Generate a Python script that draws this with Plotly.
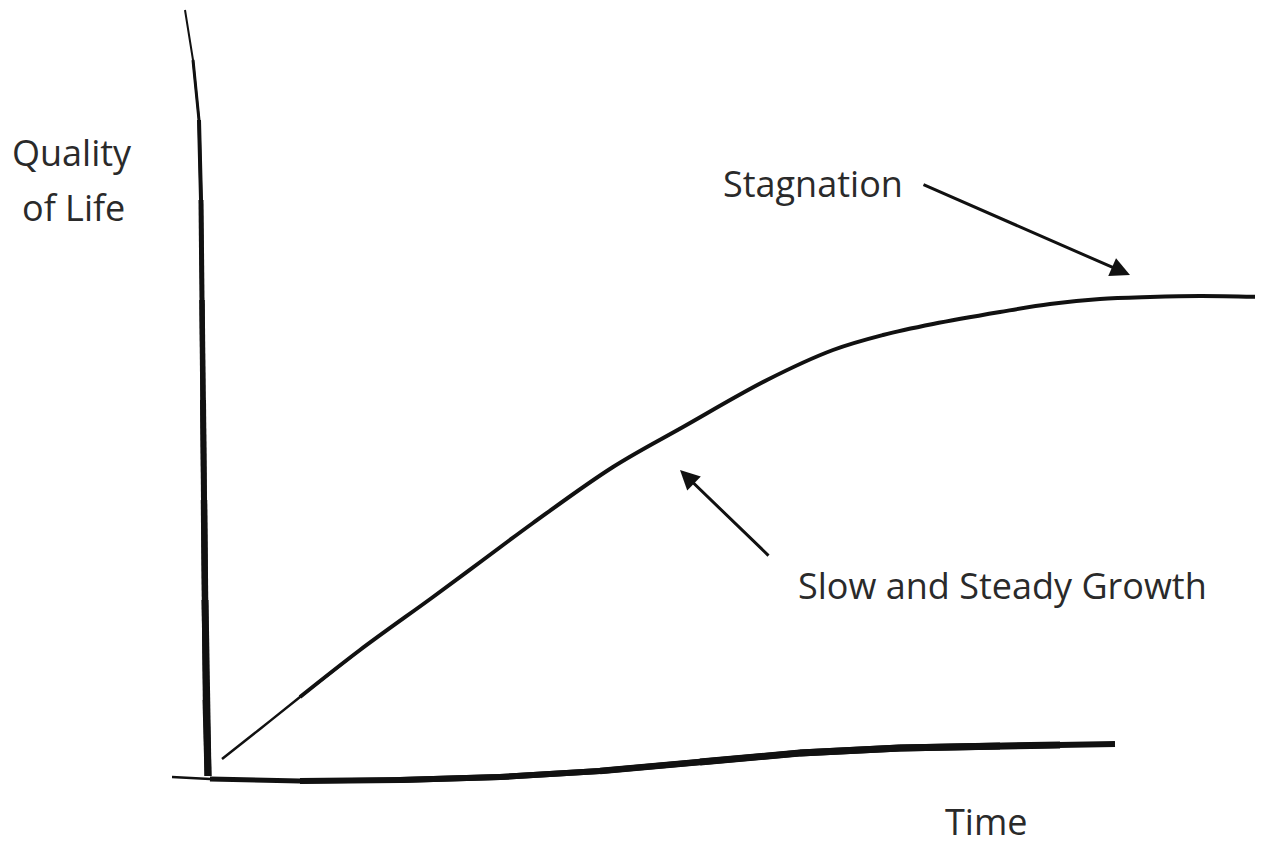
import plotly.graph_objects as go

# hand-drawn strokes, in picture units (x to the right, y upward, 0..1263 x 0..845)
axis_y_x = [185, 193, 199, 201, 202, 203, 204, 205, 206, 208]
axis_y_y = [835, 785, 725, 645, 545, 445, 345, 245, 145, 69]

axis_x_x = [172, 210, 300, 400, 500, 600, 700, 800, 900, 1000, 1060, 1115]
axis_x_y = [68, 66, 64, 65, 68, 74, 83, 92, 97, 99, 100, 101]

growth_x = [222, 260, 300, 360, 433, 483, 533, 613, 683, 767, 833, 883, 933, 1000, 1050, 1100, 1150, 1200, 1262]
growth_y = [86, 116, 148, 195, 248, 285, 322, 378, 418, 465, 495, 510, 521, 533, 541, 546, 548, 549, 548]

# labels
label_texts = ["Quality", "of Life", "Stagnation", "Slow and Steady Growth", "Time"]
label_x = [72, 73, 813, 1002, 986]
label_y = [693, 638, 662, 260, 24]

# arrows: tail -> head
arrow_tail_x = [922, 770]
arrow_tail_y = [661, 288]
arrow_head_x = [1130, 680]
arrow_head_y = [570, 375]

INK = "#111111"
TXT = "#2a2a2a"

fig = go.Figure()


def stroke(xs, ys, widths):
    # draw a stroke as overlapping short pieces so the pen width can change along it
    for i in range(len(xs) - 1):
        fig.add_trace(go.Scatter(
            x=xs[i:i + 3], y=ys[i:i + 3], mode="lines",
            line=dict(color=INK, width=widths[i]),
            hoverinfo="skip", showlegend=False
        ))


stroke(axis_y_x, axis_y_y, [2, 3, 4, 5, 5.5, 6, 6.5, 7, 7])
stroke(axis_x_x, axis_x_y, [2.5, 5, 6, 6, 6, 6.5, 7, 7, 7, 6, 4])

# the growth curve, thin where it starts
fig.add_trace(go.Scatter(
    x=growth_x[:4], y=growth_y[:4], mode="lines",
    line=dict(color=INK, width=2.5, shape="spline"),
    hoverinfo="skip", showlegend=False
))
fig.add_trace(go.Scatter(
    x=growth_x[2:], y=growth_y[2:], mode="lines",
    line=dict(color=INK, width=4, shape="spline"),
    hoverinfo="skip", showlegend=False
))

for t, x, y in zip(label_texts, label_x, label_y):
    fig.add_annotation(
        x=x, y=y, text=t, showarrow=False, borderpad=0,
        font=dict(family="'Open Sans', Lato, sans-serif", size=36, color=TXT),
        xanchor="center", yanchor="middle"
    )

for tx, ty, hx, hy in zip(arrow_tail_x, arrow_tail_y, arrow_head_x, arrow_head_y):
    fig.add_annotation(
        x=hx, y=hy, ax=tx, ay=ty, xref="x", yref="y", axref="x", ayref="y",
        text="", showarrow=True, arrowhead=2, arrowsize=1.3, arrowwidth=3,
        arrowcolor=INK
    )

# the page body keeps an 8px margin, so the figure is 8px smaller and its ranges start there
fig.update_layout(
    width=1255, height=837,
    margin=dict(l=0, r=0, t=0, b=0),
    paper_bgcolor="white", plot_bgcolor="white",
    xaxis=dict(range=[8, 1263], visible=False, fixedrange=True),
    yaxis=dict(range=[0, 837], visible=False, fixedrange=True),
    showlegend=False
)

fig.write_html("out.html")
